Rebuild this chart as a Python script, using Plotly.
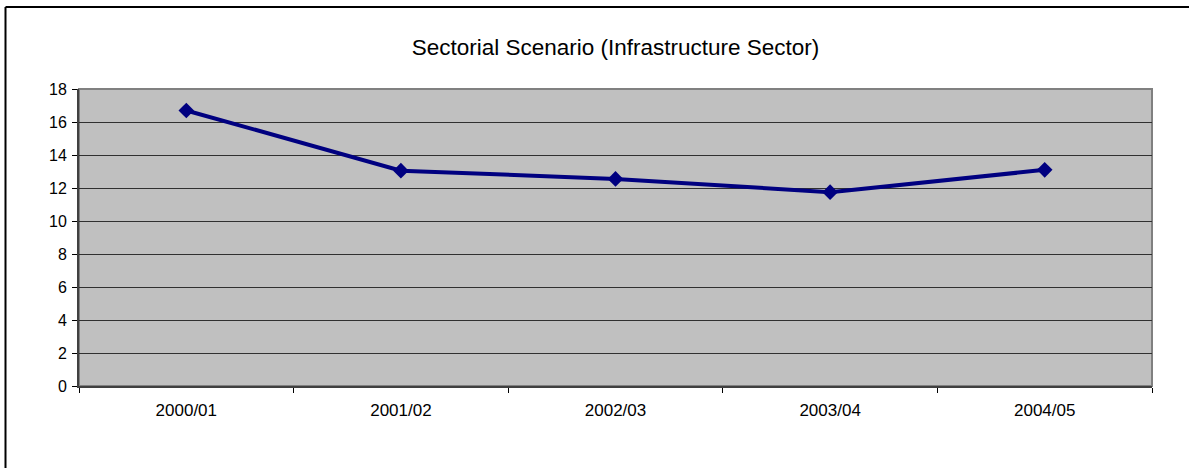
import plotly.graph_objects as go

categories = ["2000/01", "2001/02", "2002/03", "2003/04", "2004/05"]
values = [16.7, 13.05, 12.55, 11.75, 13.1]
y_ticks = [0, 2, 4, 6, 8, 10, 12, 14, 16, 18]

W, H = 1189, 468
L, R, T, B = 79, 37, 89, 82
pw, ph = W - L - R, H - T - B

fig = go.Figure()
fig.add_trace(go.Scatter(
    x=categories, y=values, mode="lines+markers",
    line=dict(color="#000080", width=4),
    marker=dict(symbol="diamond", size=12, color="#000080"),
    showlegend=False,
))

fig.update_layout(
    width=W, height=H,
    margin=dict(l=L, r=R, t=T, b=B),
    paper_bgcolor="white",
    plot_bgcolor="#C0C0C0",
    font=dict(family="Liberation Sans, Arial, sans-serif", size=16, color="black"),
    title=dict(text="Sectorial Scenario (Infrastructure Sector)",
               x=(L + pw / 2) / W, xanchor="center",
               y=1 - 47 / H, yanchor="middle",
               font=dict(size=22.5, color="black")),
    xaxis=dict(type="category", range=[-0.5, len(categories) - 0.5],
               tickson="boundaries", ticks="outside", ticklen=5,
               tickcolor="black", showgrid=False, showline=True, linecolor="#404040",
               linewidth=2, zeroline=False, tickfont=dict(size=17), ticklabelstandoff=8),
    yaxis=dict(range=[0, 18], tickvals=y_ticks, ticks="outside", ticklen=5,
               tickcolor="black", showgrid=True, gridcolor="#303030", gridwidth=1,
               showline=True, linecolor="#404040", linewidth=2, zeroline=False,
               tickfont=dict(size=16), ticklabelstandoff=2),
    shapes=[
        dict(type="rect", xref="paper", yref="paper", x0=0, x1=1, y0=0, y1=1,
             line=dict(color="#808080", width=2), layer="below"),
        dict(type="line", xref="paper", yref="paper",
             x0=(5.5 - L) / pw, x1=(W - L) / pw, y0=1 + (T - 7) / ph, y1=1 + (T - 7) / ph,
             line=dict(color="black", width=2)),
        dict(type="line", xref="paper", yref="paper",
             x0=(5.5 - L) / pw, x1=(5.5 - L) / pw, y0=1 + (T - 7) / ph, y1=-(B) / ph,
             line=dict(color="black", width=2)),
    ],
)

fig.write_html("out.html", config={"displayModeBar": False},
               post_script="document.body.style.margin='0';document.body.style.padding='0';")
